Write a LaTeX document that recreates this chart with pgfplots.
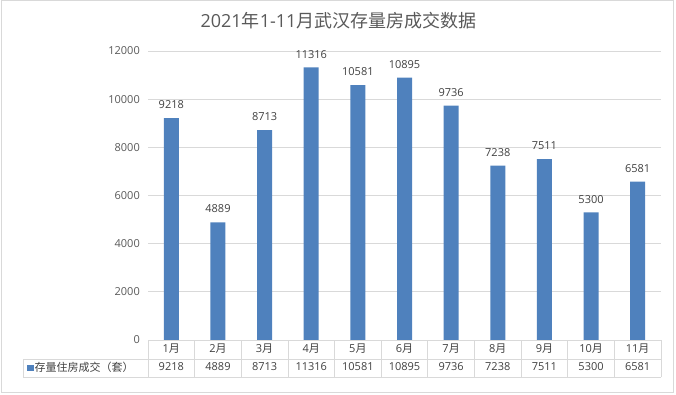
\documentclass[border=0pt]{standalone}
\usepackage{fontspec}
\setmainfont{Open Sans}
\newfontfamily\cjk{Noto Sans CJK SC}
\usepackage{pgfplots}
\pgfplotsset{compat=1.18}
\definecolor{barblue}{RGB}{79,129,189}
\definecolor{txt}{RGB}{89,89,89}
\definecolor{txtd}{RGB}{64,64,64}
\definecolor{gridc}{RGB}{217,217,217}
\pgfplotstableread{
x y
0 9218
1 4889
2 8713
3 11316
4 10581
5 10895
6 9736
7 7238
8 7511
9 5300
10 6581
}\sales
\newcommand{\yue}{{\cjk 月}}
\begin{document}
\begin{tikzpicture}[x=1pt,y=1pt]
\path[use as bounding box] (0,0) rectangle (676,394);
\draw[gridc, line width=1pt] (1,2) rectangle (673,393);
\node[font=\fontsize{18}{20}\selectfont, text=txt] at (338.5,373) {2021{\cjk 年}1-11{\cjk 月武汉存量房成交数据}};
\begin{axis}[
  at={(148pt,54pt)}, anchor=south west,
  scale only axis, width=513pt, height=289pt,
  xmin=-0.5, xmax=10.5, ymin=0, ymax=12000,
  ytick={0,2000,...,12000},
  xtick={0,...,10},
  xticklabels={{1\yue\\9218},{2\yue\\4889},{3\yue\\8713},{4\yue\\11316},{5\yue\\10581},{6\yue\\10895},{7\yue\\9736},{8\yue\\7238},{9\yue\\7511},{10\yue\\5300},{11\yue\\6581}},
  xticklabel style={align=center, font=\fontsize{11}{18.5}\selectfont, text=txtd, anchor=north, inner sep=0pt, yshift=-3.5pt},
  yticklabel style={font=\fontsize{11}{13}\selectfont, text=txt, anchor=east, inner sep=0pt, xshift=-8pt},
  axis line style={draw=none},
  major tick length=0pt,
  ymajorgrids, grid style={gridc, line width=0.8pt},
  scaled y ticks=false,
  /pgf/number format/assume math mode=true,
  /pgf/number format/1000 sep={},
  clip=false,
  legend style={at={(axis description cs:-0.236,-0.097)}, anchor=west, draw=none, fill=none, font=\fontsize{11}{13}\selectfont, text=txtd, inner sep=0pt, nodes={inner sep=1pt}},
]
\addplot[ybar, bar width=15pt, fill=barblue, draw=none,
  legend image code/.code={\fill[barblue] (0pt,-3.3pt) rectangle (6.6pt,3.3pt);},
  nodes near coords,
  every node near coord/.append style={font=\fontsize{11}{13}\selectfont, text=txtd, inner sep=0pt, anchor=south, yshift=9pt}
] table[x=x,y=y] {\sales};
\addlegendentry{{\cjk 存量住房成交（套）}}
\end{axis}
\draw[gridc, line width=0.8pt] (148,54) -- (661,54);
\draw[gridc, line width=0.8pt] (23,35) -- (661,35);
\draw[gridc, line width=0.8pt] (23,17) -- (661,17);
\draw[gridc, line width=0.8pt] (23,17) -- (23,35);
\foreach \k in {0,...,11} {\draw[gridc, line width=0.8pt] (148+\k*46.636,17) -- (148+\k*46.636,54);}
\end{tikzpicture}
\end{document}
